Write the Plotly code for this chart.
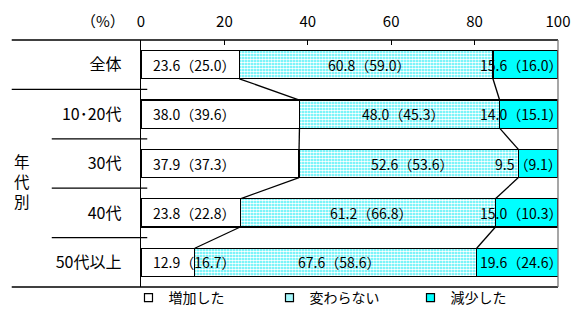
import plotly.graph_objects as go

categories = ["全体", "10･20代", "30代", "40代", "50代以上"]
increased = [23.6, 38.0, 37.9, 23.8, 12.9]
increased_prev = [25.0, 39.6, 37.3, 22.8, 16.7]
unchanged = [60.8, 48.0, 52.6, 61.2, 67.6]
unchanged_prev = [59.0, 45.3, 53.6, 66.8, 58.6]
decreased = [15.6, 14.0, 9.5, 15.0, 19.6]
decreased_prev = [16.0, 15.1, 9.1, 10.3, 24.6]
series_names = ["増加した", "変わらない", "減少した"]
x_ticks = [0, 20, 40, 60, 80, 100]

FONT = "Noto Sans CJK JP, Noto Sans, sans-serif"
BARGAP = 0.43
W = 1 - BARGAP
CYAN = "#00FFFF"
MID_BG = "#3DEFF7"
PATTERN = dict(shape=".", fgcolor="white", bgcolor=MID_BG, size=3, solidity=0.62, fillmode="replace")

fig = go.Figure()
line = dict(color="black", width=1.3)
fig.add_trace(go.Bar(y=categories, x=increased, orientation="h", name=series_names[0], showlegend=False,
                     marker=dict(color="white", line=line)))
fig.add_trace(go.Bar(y=categories, x=unchanged, orientation="h", name=series_names[1], showlegend=False,
                     marker=dict(color=MID_BG, line=line, pattern=PATTERN)))
fig.add_trace(go.Bar(y=categories, x=decreased, orientation="h", name=series_names[2], showlegend=False,
                     marker=dict(color=CYAN, line=line)))

# legend entries (small square keys)
for name, col in zip(series_names, ["white", "#A6F8FC", CYAN]):
    fig.add_trace(go.Scatter(x=[None], y=[None], mode="markers", name=name,
                             marker=dict(symbol="square", size=8, color=col,
                                         line=dict(color="black", width=1.2))))

annotations = []
tf = dict(family=FONT, size=14, color="black")
for i, c in enumerate(categories):
    annotations.append(dict(x=0, y=c, xref="x", yref="y", text=f"{increased[i]:.1f}（{increased_prev[i]:.1f}）",
                            showarrow=False, xanchor="left", xshift=10, font=tf))
    annotations.append(dict(x=increased[i] + unchanged[i] / 2, y=c, xref="x", yref="y",
                            text=f"{unchanged[i]:.1f}（{unchanged_prev[i]:.1f}）",
                            showarrow=False, xanchor="center", xshift=3, font=tf))
    annotations.append(dict(x=100, y=c, xref="x", yref="y", text=f"{decreased[i]:.1f}（{decreased_prev[i]:.1f}）",
                            showarrow=False, xanchor="right", xshift=6, font=tf))

annotations.append(dict(x=-0.09, y=1.0, xref="paper", yref="paper", yanchor="middle", xanchor="center",
                        yshift=20, text="（%）", showarrow=False,
                        font=dict(family=FONT, size=15, color="black")))
annotations.append(dict(x=-0.285, y=0.43, xref="paper", yref="paper", text="年<br>代<br>別",
                        xanchor="center", yanchor="middle",
                        showarrow=False, font=dict(family=FONT, size=15.5, color="black")))

shapes = []
# connector lines between adjacent bars
for i in range(len(categories) - 1):
    for b0, b1 in [(increased[i], increased[i + 1]),
                   (increased[i] + unchanged[i], increased[i + 1] + unchanged[i + 1])]:
        shapes.append(dict(type="line", xref="x", yref="y", x0=b0, x1=b1,
                           y0=i + W / 2, y1=i + 1 - W / 2, line=dict(color="black", width=1.3)))
# frame / separators
blk = dict(color="black", width=1.3)
shapes.append(dict(type="line", xref="paper", yref="paper", x0=-0.31, x1=1, y0=1, y1=1, line=blk))
shapes.append(dict(type="line", xref="paper", yref="paper", x0=-0.31, x1=1, y0=0, y1=0, line=blk))
shapes.append(dict(type="line", xref="paper", yref="paper", x0=1, x1=1, y0=0, y1=1,
                   line=dict(color="#777777", width=1.3)))
n = len(categories)
for k in range(1, n):
    x0 = -0.31 if k == 1 else -0.214
    shapes.append(dict(type="line", xref="paper", yref="paper", x0=x0, x1=0.015,
                       y0=1 - k / n, y1=1 - k / n, line=blk))

fig.update_layout(
    width=581, height=313,
    margin=dict(l=141, r=23, t=40, b=26, autoexpand=False),
    barmode="stack", bargap=BARGAP,
    plot_bgcolor="white", paper_bgcolor="white",
    font=dict(family=FONT, size=14, color="black"),
    annotations=annotations, shapes=shapes,
    showlegend=True,
    legend=dict(orientation="h", x=-0.03, y=-0.045, yanchor="middle", xanchor="left",
                font=dict(family=FONT, size=14), entrywidth=96, entrywidthmode="pixels",
                itemwidth=30, traceorder="normal", bgcolor="rgba(0,0,0,0)"),
)
fig.update_xaxes(side="top", range=[0, 100], tickvals=x_ticks, ticks="inside", ticklen=5,
                 tickcolor="black", tickwidth=1.3, showgrid=False, zeroline=False, showline=False,
                 automargin=False,
                 tickfont=dict(family=FONT, size=15, color="black"), ticklabelstandoff=9, fixedrange=True)
fig.update_yaxes(type="category", categoryorder="array", categoryarray=categories, autorange="reversed",
                 showgrid=False, zeroline=False, showline=True, linecolor="black", linewidth=1.3,
                 automargin=False, fixedrange=True,
                 ticks="", ticklabelstandoff=15, tickfont=dict(family=FONT, size=16, color="black"))

fig.write_html("out.html", config={"displayModeBar": False, "staticPlot": True},
               post_script="document.body.style.margin='0px';document.body.style.overflow='hidden';")
